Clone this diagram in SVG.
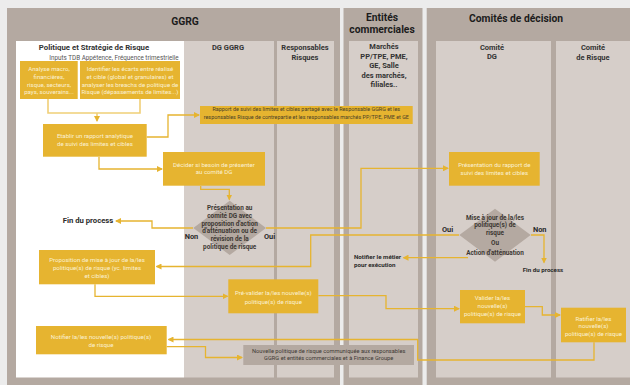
<svg xmlns="http://www.w3.org/2000/svg" width="630" height="385" viewBox="0 0 630 385">
<style>
text{font-family:Roboto,"Liberation Sans",sans-serif}
.h1{font-size:10.3px;font-weight:bold;fill:#1c1c1c;text-anchor:middle}
.h2{font-size:7.5px;font-weight:bold;fill:#333;text-anchor:middle}
.h2b{font-size:7.8px;font-weight:bold;fill:#333;text-anchor:middle}
.sub{font-size:6.3px;fill:#555;text-anchor:middle}
.bt{font-size:6.1px;fill:#fbf1d4;text-anchor:middle}
.dt{font-size:6.4px;font-weight:bold;fill:#3d3833;text-anchor:middle}
.tt{font-size:5.4px;fill:#4a3f28;text-anchor:middle}
.gt{font-size:5.7px;fill:#3d3833;text-anchor:middle}
.lb{font-size:7.4px;font-weight:bold;fill:#2a2a2a;text-anchor:middle}
.ln{font-size:6.2px;font-weight:bold;fill:#2a2a2a}
.panel{fill:#b4a9a1}
.col{fill:#d6cec9}
.box{fill:#e6b430}
.gbox{fill:#b4a9a1}
.c{fill:none;stroke:#e6b430;stroke-width:1.3}
.cl{fill:none;stroke:#f0cf77;stroke-width:1.6}
.ca{marker-end:url(#ah)}
</style>
<defs>
<marker id="ah" markerUnits="userSpaceOnUse" markerWidth="6" markerHeight="6" refX="5" refY="3" orient="auto">
<path d="M0,0 L6,3 L0,6 z" fill="#e6b430"/>
</marker>
</defs>
<rect width="630" height="385" fill="#ececec"/>
<g id="lanes">
<rect class="panel" x="7" y="8" width="333" height="377"/>
<rect class="panel" x="343.5" y="8" width="79" height="377"/>
<rect class="panel" x="426.7" y="8" width="203.3" height="377"/>
<rect x="16" y="41" width="168" height="336.5" fill="#ffffff"/>
<rect class="col" x="184" y="41" width="90" height="336.5"/>
<rect class="col" x="277" y="41" width="57" height="336.5"/>
<rect class="col" x="349" y="41" width="69" height="336.5"/>
<rect class="col" x="436" y="41" width="115" height="336.5"/>
<rect class="col" x="556" y="41" width="74" height="336.5"/>
<text class="h1" x="185" y="24.5">GGRG</text>
<text class="h1" x="382" y="21">Entités</text>
<text class="h1" x="382" y="33">commerciales</text>
<text class="h1" x="516" y="22">Comités de décision</text>
<text class="h2b" x="94" y="50.3">Politique et Stratégie de Risque</text>
<text class="sub" x="114" y="59.5">Inputs TDB Appétence, Fréquence trimestrielle</text>
<text class="h2" x="228" y="49.7">DG GGRG</text>
<text class="h2" x="305" y="49.7">Responsables</text>
<text class="h2" x="305" y="59.7">Risques</text>
<text class="h2" x="384" y="49.4">Marchés</text>
<text class="h2" x="384" y="59.2">PP/TPE, PME,</text>
<text class="h2" x="384" y="68.2">GE, Salle</text>
<text class="h2" x="384" y="77.8">des marchés,</text>
<text class="h2" x="384" y="86.9">filiales..</text>
<text class="h2" x="492" y="49.7">Comité</text>
<text class="h2" x="492" y="58.7">DG</text>
<text class="h2" x="593" y="49.7">Comité</text>
<text class="h2" x="593" y="59.7">de Risque</text>
</g>
<g id="connectors">
<path class="cl" d="M48,99 V113 H140 V99"/>
<path class="cl ca" d="M97,113 V121"/>
<path class="c ca" d="M146.7,137 H168 V115 H199"/>
<path class="c ca" d="M99,157 V169 H162"/>
<path class="c ca" d="M200.7,186 V189.3 H229.3 V199.5"/>
<path class="c ca" d="M193,228 H152 V221 H116"/>
<path class="c ca" d="M266,228 H361 V168.3 H448"/>
<path class="c ca" d="M459,235 H310.7 V266.5 H156.5"/>
<path class="c ca" d="M468,257.7 H403.5"/>
<path class="c ca" d="M531,235 H544 V262.5"/>
<path class="c ca" d="M95,284.3 V296.3 H227.5"/>
<path class="c ca" d="M318.3,295.7 H386 V308.7 H459"/>
<path class="c ca" d="M525,306.7 H542.3 V315 H560"/>
<path class="c ca" d="M594,342.3 V360 H417.7 V339.5 H168.5"/>
<path class="c ca" d="M166.7,346.7 H205.5 V357.5 H242"/>
</g>
<g id="n-analyse">
<rect class="box" x="20" y="61" width="57.7" height="38"/>
<text class="bt" x="49" y="71.2">Analyse macro,</text>
<text class="bt" x="49" y="78.9">financières,</text>
<text class="bt" x="49" y="86.9">risque, secteurs,</text>
<text class="bt" x="49" y="94.2">pays, souverains...</text>
</g>
<g id="n-identifier">
<rect class="box" x="80" y="61" width="100" height="38"/>
<text class="bt" x="130" y="71.2">Identifier les écarts entre réalisé</text>
<text class="bt" x="130" y="78.9">et cible (global et granulaires) et</text>
<text class="bt" x="130" y="86.9">analyser les breachs de politique de</text>
<text class="bt" x="130" y="94.2">Risque (dépassements de limites...)</text>
</g>
<g id="n-etablir">
<rect class="box" x="43" y="124" width="103.7" height="32.7"/>
<text class="bt" x="95" y="138">Etablir un rapport analytique</text>
<text class="bt" x="95" y="146.2">de suivi des limites et cibles</text>
</g>
<g id="n-rapport">
<rect class="box" x="200" y="106" width="212.7" height="18"/>
<text class="tt" x="306.3" y="111">Rapport de suivi des limites et cibles partagé avec le Responsable GGRG et les</text>
<text class="tt" x="306.3" y="119.2">responsables Risque de contrepartie et les responsables marchés PP/TPE, PME et GE</text>
</g>
<g id="n-decider">
<rect class="box" x="163" y="152" width="102" height="33.7"/>
<text class="bt" x="214" y="167.2">Décider si besoin de présenter</text>
<text class="bt" x="214" y="174.2">au comité DG</text>
</g>
<g id="n-presentation-dg">
<path class="gbox" d="M229.7,200.7 L266,228 L229.7,255 L193.3,228 z"/>
<text class="dt" x="229.7" y="210.3">Présentation au</text>
<text class="dt" x="229.7" y="217.6">comité DG avec</text>
<text class="dt" x="229.7" y="225.6">proposition d'action</text>
<text class="dt" x="229.7" y="233">d'atténuation ou de</text>
<text class="dt" x="229.7" y="241">révision de la</text>
<text class="dt" x="229.7" y="249">politique de risque</text>
<text class="lb" x="191.5" y="239.2">Non</text>
<text class="lb" x="269.5" y="239.2">Oui</text>
</g>
<g id="n-fin1">
<text class="lb" x="88" y="223.3" style="font-size:7.7px">Fin du process</text>
</g>
<g id="n-presentation-rapport">
<rect class="box" x="449" y="152" width="90.7" height="33.7"/>
<text class="bt" x="494.3" y="167.2">Présentation du rapport de</text>
<text class="bt" x="494.3" y="174.9">suivi des limites et cibles</text>
</g>
<g id="n-miseajour">
<path class="gbox" d="M495,208.7 L530.7,235 L495,261.7 L459.3,235 z"/>
<text class="dt" x="495" y="219.6">Mise à jour de la/les</text>
<text class="dt" x="495" y="227.3">politique(s) de</text>
<text class="dt" x="495" y="235.3">risque</text>
<text class="dt" x="495" y="245">Ou</text>
<text class="dt" x="495" y="255">Action d'atténuation</text>
<text class="lb" x="447.5" y="231.8">Oui</text>
<text class="lb" x="539.7" y="231.8">Non</text>
</g>
<g id="n-fin2">
<text class="ln" x="543" y="271.5" text-anchor="middle">Fin du process</text>
</g>
<g id="n-notifier-metier">
<text class="ln" x="354" y="258.9">Notifier le métier</text>
<text class="ln" x="354" y="266.9">pour exécution</text>
</g>
<g id="n-proposition">
<rect class="box" x="39" y="250" width="116" height="34.3"/>
<text class="bt" x="97" y="261.5">Proposition de mise à jour de la/les</text>
<text class="bt" x="97" y="269.9">politique(s) de risque (yc. limites</text>
<text class="bt" x="97" y="277.9">et cibles)</text>
</g>
<g id="n-prevalider">
<rect class="box" x="228.3" y="279.3" width="90" height="34"/>
<text class="bt" x="273.3" y="294.9">Pré-valider la/les nouvelle(s)</text>
<text class="bt" x="273.3" y="303.9">politique(s) de risque</text>
</g>
<g id="n-valider">
<rect class="box" x="460" y="290" width="65" height="33.3"/>
<text class="bt" x="492.5" y="299.9">Valider la/les</text>
<text class="bt" x="492.5" y="307.5">nouvelle(s)</text>
<text class="bt" x="492.5" y="315.9">politique(s) de risque</text>
</g>
<g id="n-ratifier">
<rect class="box" x="561" y="307.7" width="65" height="34.6"/>
<text class="bt" x="593.5" y="320.5">Ratifier la/les</text>
<text class="bt" x="593.5" y="327.9">nouvelle(s)</text>
<text class="bt" x="593.5" y="335.5">politique(s) de risque</text>
</g>
<g id="n-notifier">
<rect class="box" x="36" y="326" width="130.7" height="28.3"/>
<text class="bt" x="101" y="338.9">Notifier la/les nouvelle(s) politique(s)</text>
<text class="bt" x="101" y="346.5">de risque</text>
</g>
<g id="n-nouvelle">
<rect class="gbox" x="243.3" y="345" width="170.7" height="20"/>
<text class="gt" x="328.7" y="353">Nouvelle politique de risque communiquée aux responsables</text>
<text class="gt" x="328.7" y="360.4">GGRG et entités commerciales et à Finance Groupe</text>
</g>
</svg>
